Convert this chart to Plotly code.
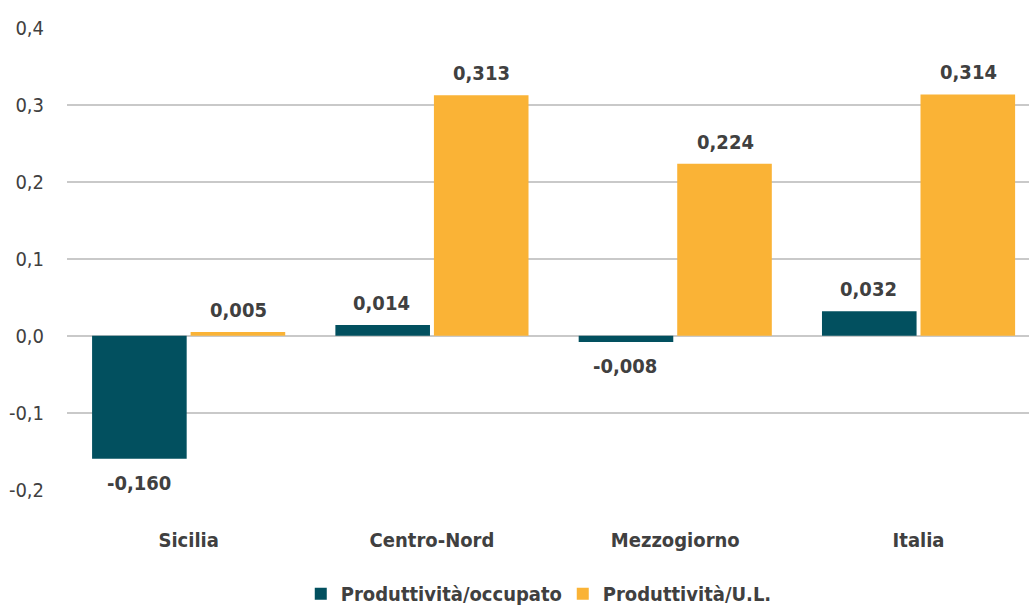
import plotly.graph_objects as go

categories = ["Sicilia", "Centro-Nord", "Mezzogiorno", "Italia"]
per_occupato = [-0.160, 0.014, -0.008, 0.032]
per_ul = [0.005, 0.313, 0.224, 0.314]
y_ticks = [-0.2, -0.1, 0.0, 0.1, 0.2, 0.3, 0.4]
y_tick_labels = ["-0,2", "-0,1", "0,0", "0,1", "0,2", "0,3", "0,4"]

FONT = "DejaVu Sans Condensed, Liberation Sans Narrow, Roboto, sans-serif"
TEXT_COLOR = "#404040"
DARK = "#02505F"
YELLOW = "#FAB336"


def it_fmt(v):
    return f"{v:.3f}".replace(".", ",")


fig = go.Figure()
fig.add_trace(go.Bar(
    name="<b>Produttività/occupato</b>", x=categories, y=per_occupato,
    marker=dict(color=DARK, line=dict(width=0)),
))
fig.add_trace(go.Bar(
    name="<b>Produttività/U.L.</b>", x=categories, y=per_ul,
    marker=dict(color=YELLOW, line=dict(width=0)),
))

# value labels above positive bars and below negative ones
for values, xshift in ((per_occupato, -50), (per_ul, 50)):
    for cat, v in zip(categories, values):
        fig.add_annotation(
            x=cat, y=v, xref="x", yref="y", text=f"<b>{it_fmt(v)}</b>",
            showarrow=False, xshift=xshift, yshift=22 if v >= 0 else -24,
            yanchor="middle", xanchor="center",
            font=dict(family=FONT, size=20, color=TEXT_COLOR),
        )

fig.update_layout(
    width=1029, height=612,
    margin=dict(l=67, r=0, t=28, b=122),
    paper_bgcolor="white", plot_bgcolor="white",
    barmode="group", bargap=0.19, bargroupgap=0.04,
    font=dict(family=FONT, size=20, color=TEXT_COLOR),
    legend=dict(
        orientation="h", x=0.243, xanchor="left",
        yref="container", y=0.03, yanchor="middle",
        font=dict(family=FONT, size=20, color=TEXT_COLOR),
        entrywidth=217, itemwidth=30,
    ),
    xaxis=dict(
        range=[-0.5, 3.454], showgrid=False, showline=False, zeroline=False,
        tickmode="array", tickvals=list(range(len(categories))),
        ticktext=[f"<b>{c}</b>" for c in categories],
        tickfont=dict(family=FONT, size=20, color=TEXT_COLOR),
        ticklabelstandoff=36, automargin=False,
    ),
    yaxis=dict(
        range=[-0.2005, 0.4005], tickmode="array", tickvals=y_ticks,
        ticktext=y_tick_labels, showgrid=True, gridcolor="#C9C9C9", gridwidth=1.5,
        zeroline=True, zerolinecolor="#C9C9C9", zerolinewidth=1.5,
        showline=False, ticklabelstandoff=22, automargin=False,
        tickfont=dict(family=FONT, size=20, color=TEXT_COLOR),
    ),
)

fig.write_html("out.html")
